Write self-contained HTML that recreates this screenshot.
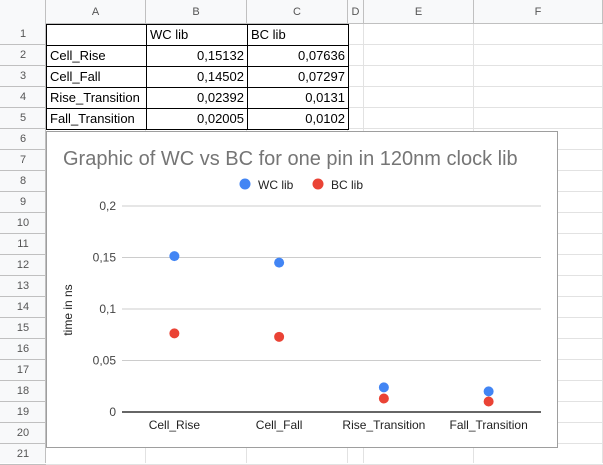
<!DOCTYPE html>
<html><head><meta charset="utf-8"><style>
body{margin:0;width:603px;height:463px;overflow:hidden;background:#fff;font-family:"Liberation Sans",Arial,sans-serif;position:relative}
.a{position:absolute;box-sizing:border-box}
</style></head><body>
<div id="grid"></div>
<div class="a" style="left:46px;top:131px;width:512px;height:317px;border:1px solid #9e9e9e;background:#fff">
<svg width="510" height="315" style="position:absolute;left:0;top:0" id="svg"></svg>
</div>
<script>
const categories=["Cell_Rise","Cell_Fall","Rise_Transition","Fall_Transition"];
const wcValues=[0.15132,0.14502,0.02392,0.02005];
const bcValues=[0.07636,0.07297,0.0131,0.0102];
const tickValues=[0,0.05,0.1,0.15,0.2];
const tickLabels=["0","0,05","0,1","0,15","0,2"];
const wcLabels=["0,15132","0,14502","0,02392","0,02005"];
const bcLabels=["0,07636","0,07297","0,0131","0,0102"];

// spreadsheet grid
const g=document.getElementById('grid');
const cols=[["",0,46],["A",46,146],["B",146,247],["C",247,348],["D",348,364],["E",364,474],["F",474,603]];
function div(css,txt,name,inter){const d=document.createElement('div');d.className='a';d.style.cssText=css;if(txt!==undefined)d.textContent=txt;


g.appendChild(d);return d;}
div('left:0;top:0;width:603px;height:24px;background:#f8f9fa;border-bottom:1px solid #c0c0c0','', 'column-header-bar',false);
div('left:0;top:0;width:46px;height:463px;background:#f8f9fa;border-right:1px solid #c0c0c0','', 'row-header-bar',false);
cols.forEach((c,i)=>{if(i==0)return;
const d=div(`left:${c[1]}px;top:0;width:${c[2]-c[1]}px;height:24px;border-right:1px solid #c0c0c0;font-size:11px;color:#555;text-align:center;line-height:24px`,c[0],'column-header-'+c[0].toLowerCase(),true);
div(`left:${c[2]-1}px;top:24px;width:1px;height:439px;background:#e2e2e2`,undefined,'column-gridline',false);});
for(let r=1;r<=21;r++){const y=24+(r-1)*21;
div(`left:0;top:${y}px;width:46px;height:21px;font-size:11px;color:#555;text-align:center;line-height:21px;border-bottom:1px solid #c0c0c0`,String(r),'row-header-'+r,true);
div(`left:46px;top:${y+20}px;width:557px;height:1px;background:#e2e2e2`,undefined,'row-gridline',false);}
// data table
const rows=[["","WC lib","BC lib"]];
categories.forEach((c,i)=>rows.push([c,wcLabels[i],bcLabels[i]]));
rows.forEach((row,r)=>{const y=24+r*21;
[[46,146],[146,247],[247,348]].forEach((cx,ci)=>{
const right=(r>0&&ci>0);
div(`left:${cx[0]}px;top:${y}px;width:${cx[1]-cx[0]+1}px;height:22px;border:1px solid #000;background:#fff;font-size:13px;color:#000;line-height:20px;padding:0 3px;text-align:${right?'right':'left'}`,row[ci],'cell-'+'ABC'[ci].toLowerCase()+(r+1),true);});});

// chart
const svg=document.getElementById('svg');const NS='http://www.w3.org/2000/svg';
function el(t,a,txt,name){const e=document.createElementNS(NS,t);for(const k in a)e.setAttribute(k,a[k]);if(txt!==undefined)e.textContent=txt;


svg.appendChild(e);return e;}
const ox=47,oy=132;
const x0=122-ox,x1=541-ox,y0=412-oy,yTop=206-oy;
const yS=v=>y0-(v/0.2)*(y0-yTop);
const band=(x1-x0)/categories.length;
const xS=i=>x0+band*(i+0.5);
el('text',{x:63-ox,y:165-oy,'font-size':20,fill:'#757575','font-family':'Liberation Sans'},'Graphic of WC vs BC for one pin in 120nm clock lib','chart-title');
el('circle',{cx:245-ox,cy:184-oy,r:5.5,fill:'#4285f4'},undefined,'legend-wc-marker');
el('text',{x:258-ox,y:189-oy,'font-size':12,fill:'#222'},'WC lib','legend-wc-label');
el('circle',{cx:318-ox,cy:184-oy,r:5.5,fill:'#ea4335'},undefined,'legend-bc-marker');
el('text',{x:331-ox,y:189-oy,'font-size':12,fill:'#222'},'BC lib','legend-bc-label');
el('text',{x:0,y:0,'font-size':12,fill:'#222','text-anchor':'middle',transform:`translate(${72-ox},${310-oy}) rotate(-90)`},'time in ns','y-axis-title');
tickValues.forEach((v,i)=>{
el('line',{x1:x0,x2:x1,y1:yS(v),y2:yS(v),stroke:v===0?'#333':'#ccc','stroke-width':v===0?1.5:1},undefined,'gridline-'+i);
el('text',{x:x0-6,y:yS(v)+4,'font-size':12,fill:'#444','text-anchor':'end'},tickLabels[i],'y-tick-label-'+i);});
categories.forEach((c,i)=>{
el('text',{x:xS(i),y:y0+17,'font-size':12,fill:'#222','text-anchor':'middle'},c,'x-tick-label-'+i);
el('circle',{cx:xS(i),cy:yS(wcValues[i]),r:5,fill:'#4285f4'},undefined,'wc-point-'+i);
el('circle',{cx:xS(i),cy:yS(bcValues[i]),r:5,fill:'#ea4335'},undefined,'bc-point-'+i);});
</script>
</body></html>
